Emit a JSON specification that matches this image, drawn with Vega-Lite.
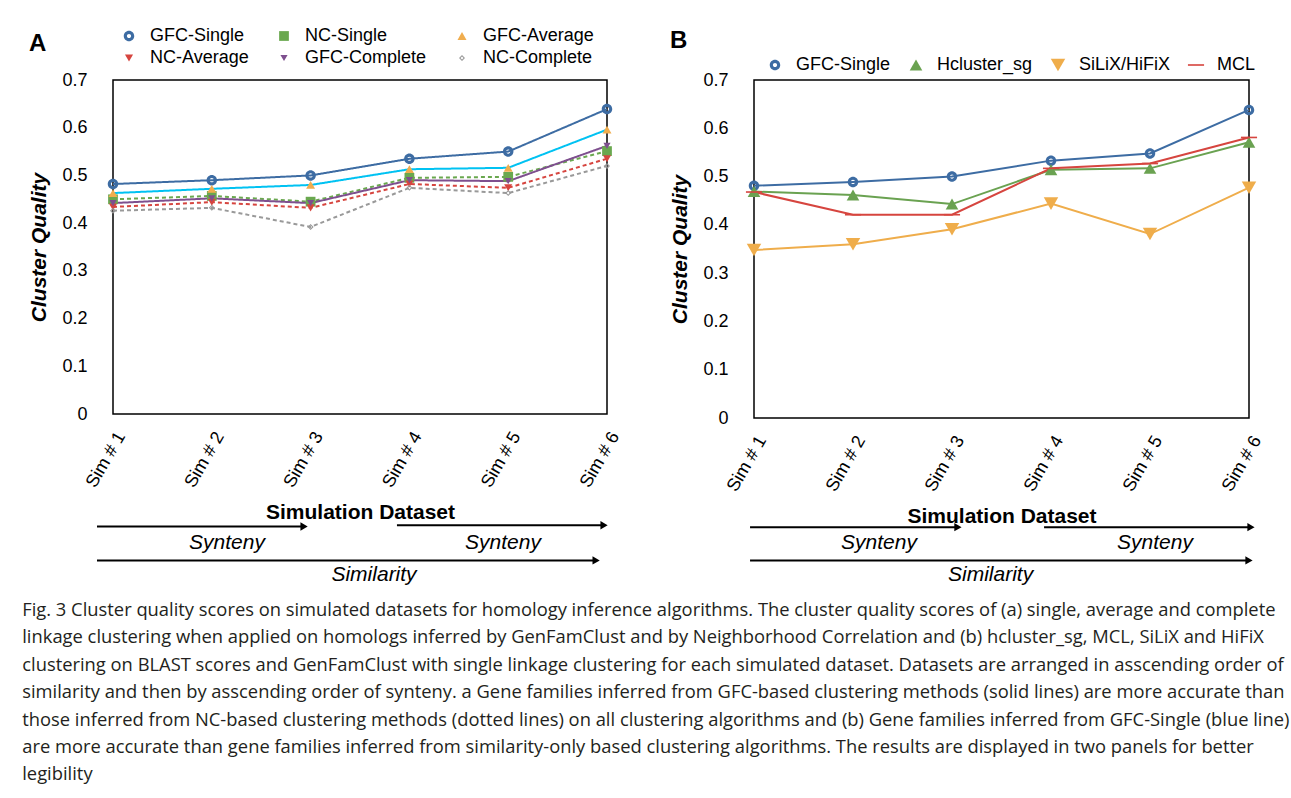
{
  "$schema": "https://vega.github.io/schema/vega-lite/v6.json",
  "background": "white",
  "padding": {"left": 22, "top": 19, "right": 10, "bottom": 10},
  "datasets": {
    "a": [
      {"sim": 1, "series": "GFC-Single", "value": 0.482}, {"sim": 2, "series": "GFC-Single", "value": 0.49}, {"sim": 3, "series": "GFC-Single", "value": 0.5}, {"sim": 4, "series": "GFC-Single", "value": 0.535}, {"sim": 5, "series": "GFC-Single", "value": 0.55}, {"sim": 6, "series": "GFC-Single", "value": 0.639},
      {"sim": 1, "series": "NC-Single", "value": 0.45}, {"sim": 2, "series": "NC-Single", "value": 0.457}, {"sim": 3, "series": "NC-Single", "value": 0.445}, {"sim": 4, "series": "NC-Single", "value": 0.495}, {"sim": 5, "series": "NC-Single", "value": 0.497}, {"sim": 6, "series": "NC-Single", "value": 0.551},
      {"sim": 1, "series": "GFC-Average", "value": 0.463}, {"sim": 2, "series": "GFC-Average", "value": 0.472}, {"sim": 3, "series": "GFC-Average", "value": 0.48}, {"sim": 4, "series": "GFC-Average", "value": 0.513}, {"sim": 5, "series": "GFC-Average", "value": 0.516}, {"sim": 6, "series": "GFC-Average", "value": 0.596},
      {"sim": 1, "series": "NC-Average", "value": 0.434}, {"sim": 2, "series": "NC-Average", "value": 0.444}, {"sim": 3, "series": "NC-Average", "value": 0.432}, {"sim": 4, "series": "NC-Average", "value": 0.482}, {"sim": 5, "series": "NC-Average", "value": 0.474}, {"sim": 6, "series": "NC-Average", "value": 0.535},
      {"sim": 1, "series": "GFC-Complete", "value": 0.442}, {"sim": 2, "series": "GFC-Complete", "value": 0.452}, {"sim": 3, "series": "GFC-Complete", "value": 0.442}, {"sim": 4, "series": "GFC-Complete", "value": 0.49}, {"sim": 5, "series": "GFC-Complete", "value": 0.488}, {"sim": 6, "series": "GFC-Complete", "value": 0.562},
      {"sim": 1, "series": "NC-Complete", "value": 0.426}, {"sim": 2, "series": "NC-Complete", "value": 0.432}, {"sim": 3, "series": "NC-Complete", "value": 0.392}, {"sim": 4, "series": "NC-Complete", "value": 0.474}, {"sim": 5, "series": "NC-Complete", "value": 0.463}, {"sim": 6, "series": "NC-Complete", "value": 0.52}
    ],
    "b": [
      {"sim": 1, "series": "GFC-Single", "value": 0.481}, {"sim": 2, "series": "GFC-Single", "value": 0.489}, {"sim": 3, "series": "GFC-Single", "value": 0.5}, {"sim": 4, "series": "GFC-Single", "value": 0.533}, {"sim": 5, "series": "GFC-Single", "value": 0.548}, {"sim": 6, "series": "GFC-Single", "value": 0.638},
      {"sim": 1, "series": "Hcluster_sg", "value": 0.469}, {"sim": 2, "series": "Hcluster_sg", "value": 0.462}, {"sim": 3, "series": "Hcluster_sg", "value": 0.443}, {"sim": 4, "series": "Hcluster_sg", "value": 0.514}, {"sim": 5, "series": "Hcluster_sg", "value": 0.517}, {"sim": 6, "series": "Hcluster_sg", "value": 0.571},
      {"sim": 1, "series": "SiLiX/HiFiX", "value": 0.348}, {"sim": 2, "series": "SiLiX/HiFiX", "value": 0.36}, {"sim": 3, "series": "SiLiX/HiFiX", "value": 0.391}, {"sim": 4, "series": "SiLiX/HiFiX", "value": 0.444}, {"sim": 5, "series": "SiLiX/HiFiX", "value": 0.381}, {"sim": 6, "series": "SiLiX/HiFiX", "value": 0.477},
      {"sim": 1, "series": "MCL", "value": 0.468}, {"sim": 2, "series": "MCL", "value": 0.421}, {"sim": 3, "series": "MCL", "value": 0.421}, {"sim": 4, "series": "MCL", "value": 0.517}, {"sim": 5, "series": "MCL", "value": 0.527}, {"sim": 6, "series": "MCL", "value": 0.581}
    ],
    "arrA": [
      {"x": 0.838, "x2": 2.934, "y": -0.07},
      {"x": 3.874, "x2": 5.97, "y": -0.09},
      {"x": 0.838, "x2": 5.89, "y": 0.46}
    ],
    "txtA": [
      {"x": 2.154, "y": 0.18, "t": "Synteny"},
      {"x": 4.947, "y": 0.18, "t": "Synteny"},
      {"x": 3.642, "y": 0.68, "t": "Similarity"}
    ],
    "arrB": [
      {"x": 0.96, "x2": 3.06, "y": -0.06},
      {"x": 3.93, "x2": 6.02, "y": -0.06},
      {"x": 0.96, "x2": 6.0, "y": 0.46}
    ],
    "txtB": [
      {"x": 2.263, "y": 0.18, "t": "Synteny"},
      {"x": 5.05, "y": 0.18, "t": "Synteny"},
      {"x": 3.39, "y": 0.68, "t": "Similarity"}
    ]
  },
  "title": {
    "text": [
      "Fig. 3 Cluster quality scores on simulated datasets for homology inference algorithms. The cluster quality scores of (a) single, average and complete",
      "linkage clustering when applied on homologs inferred by GenFamClust and by Neighborhood Correlation and (b) hcluster_sg, MCL, SiLiX and HiFiX",
      "clustering on BLAST scores and GenFamClust with single linkage clustering for each simulated dataset. Datasets are arranged in asscending order of",
      "similarity and then by asscending order of synteny. a Gene families inferred from GFC-based clustering methods (solid lines) are more accurate than",
      "those inferred from NC-based clustering methods (dotted lines) on all clustering algorithms and (b) Gene families inferred from GFC-Single (blue line)",
      "are more accurate than gene families inferred from similarity-only based clustering algorithms. The results are displayed in two panels for better",
      "legibility"
    ],
    "orient": "bottom",
    "anchor": "start",
    "frame": "bounds",
    "font": "Open Sans",
    "fontSize": 18.35,
    "fontWeight": "normal",
    "lineHeight": 27.4,
    "offset": 7,
    "dx": -6,
    "color": "#231f20"
  },
  "columns": 2,
  "align": "each",
  "spacing": {"row": -7, "column": 45},
  "resolve": {
    "scale": {"stroke": "independent", "strokeDash": "independent", "fill": "independent", "shape": "independent", "size": "independent", "x": "independent", "y": "independent"},
    "legend": {"fill": "independent", "shape": "independent", "size": "independent"}
  },
  "concat": [
    {
      "width": 494,
      "height": 334,
      "title": {"text": "A", "anchor": "start", "frame": "bounds", "fontSize": 24, "fontWeight": "bold", "offset": 0, "dy": 36},
      "data": {"name": "a"},
      "layer": [
        {
          "mark": {"type": "line", "strokeWidth": 2},
          "encoding": {
            "x": {"field": "sim", "type": "quantitative", "scale": {"domain": [1, 6], "nice": false, "zero": false}, "axis": {"values": [1, 2, 3, 4, 5, 6], "labelExpr": "'Sim # ' + datum.value", "labelAngle": -60, "title": "Simulation Dataset"}},
            "y": {"field": "value", "type": "quantitative", "scale": {"domain": [0, 0.7], "nice": false}, "axis": {"values": [0, 0.1, 0.2, 0.3, 0.4, 0.5, 0.6, 0.7], "format": "~g", "title": "Cluster Quality"}},
            "stroke": {"field": "series", "type": "nominal", "scale": {"domain": ["NC-Complete", "GFC-Complete", "NC-Average", "GFC-Average", "NC-Single", "GFC-Single"], "range": ["#999999", "#7e4f8e", "#d6453f", "#00c2f2", "#6aa84f", "#3d6ca3"]}, "legend": null},
            "strokeDash": {"field": "series", "type": "nominal", "scale": {"domain": ["NC-Complete", "GFC-Complete", "NC-Average", "GFC-Average", "NC-Single", "GFC-Single"], "range": [[4, 3], [1, 0], [4, 3], [1, 0], [4, 3], [1, 0]]}, "legend": null}
          }
        },
        {
          "mark": {"type": "point", "filled": true, "opacity": 1, "strokeWidth": 0},
          "encoding": {
            "x": {"field": "sim", "type": "quantitative"},
            "y": {"field": "value", "type": "quantitative"},
            "fill": {"field": "series", "type": "nominal", "scale": {"domain": ["GFC-Single", "NC-Single", "GFC-Average", "NC-Average", "GFC-Complete", "NC-Complete"], "range": ["#3d6ca3", "#6aa84f", "#f0ad4e", "#d6453f", "#7e4f8e", "#999999"]}, "legend": {"title": null, "orient": "top", "columns": 3, "gridAlign": "each", "columnPadding": 26, "rowPadding": 4, "labelOffset": 12, "padding": 7, "offset": 6}},
            "shape": {"field": "series", "type": "nominal", "scale": {"domain": ["GFC-Single", "NC-Single", "GFC-Average", "NC-Average", "GFC-Complete", "NC-Complete"], "range": ["M-1,0A1,1,0,1,1,1,0A1,1,0,1,1,-1,0ZM-0.4,0A0.4,0.4,0,1,0,0.4,0A0.4,0.4,0,1,0,-0.4,0Z", "square", "triangle-up", "triangle-down", "triangle-down", "M0,-1L1,0L0,1L-1,0ZM0,-0.5L-0.5,0L0,0.5L0.5,0Z"]}, "legend": {"title": null, "orient": "top", "columns": 3, "gridAlign": "each", "columnPadding": 26, "rowPadding": 4, "labelOffset": 12, "padding": 7, "offset": 6}},
            "size": {"field": "series", "type": "nominal", "scale": {"domain": ["GFC-Single", "NC-Single", "GFC-Average", "NC-Average", "GFC-Complete", "NC-Complete"], "range": [110, 36, 280, 45, 280, 50]}, "legend": {"title": null, "orient": "top", "columns": 3, "gridAlign": "each", "columnPadding": 26, "rowPadding": 4, "labelOffset": 12, "padding": 7, "offset": 6}}
          }
        }
      ]
    },
    {
      "width": 495,
      "height": 338,
      "title": {"text": "B", "anchor": "start", "frame": "bounds", "fontSize": 24, "fontWeight": "bold", "offset": 0, "dy": 9},
      "data": {"name": "b"},
      "layer": [
        {
          "mark": {"type": "line", "strokeWidth": 2},
          "encoding": {
            "x": {"field": "sim", "type": "quantitative", "scale": {"domain": [1, 6], "nice": false, "zero": false}, "axis": {"values": [1, 2, 3, 4, 5, 6], "labelExpr": "'Sim # ' + datum.value", "labelAngle": -60, "title": "Simulation Dataset"}},
            "y": {"field": "value", "type": "quantitative", "scale": {"domain": [0, 0.7], "nice": false}, "axis": {"values": [0, 0.1, 0.2, 0.3, 0.4, 0.5, 0.6, 0.7], "format": "~g", "title": "Cluster Quality"}},
            "stroke": {"field": "series", "type": "nominal", "scale": {"domain": ["MCL", "SiLiX/HiFiX", "Hcluster_sg", "GFC-Single"], "range": ["#d6453f", "#efad4b", "#6aa251", "#3d6ca3"]}, "legend": null}
          }
        },
        {
          "mark": {"type": "point", "filled": true, "opacity": 1, "strokeWidth": 0},
          "encoding": {
            "x": {"field": "sim", "type": "quantitative"},
            "y": {"field": "value", "type": "quantitative"},
            "fill": {"field": "series", "type": "nominal", "scale": {"domain": ["GFC-Single", "Hcluster_sg", "SiLiX/HiFiX", "MCL"], "range": ["#3d6ca3", "#6aa251", "#efad4b", "#d6453f"]}, "legend": {"title": null, "orient": "top", "columnPadding": 16, "labelOffset": 12, "padding": 12, "offset": -6}},
            "shape": {"field": "series", "type": "nominal", "scale": {"domain": ["GFC-Single", "Hcluster_sg", "SiLiX/HiFiX", "MCL"], "range": ["M-1,0A1,1,0,1,1,1,0A1,1,0,1,1,-1,0ZM-0.4,0A0.4,0.4,0,1,0,0.4,0A0.4,0.4,0,1,0,-0.4,0Z", "triangle-up", "triangle-down", "M-1,-0.1L1,-0.1L1,0.1L-1,0.1Z"]}, "legend": {"title": null, "orient": "top", "columnPadding": 16, "labelOffset": 12, "padding": 12, "offset": -6}},
            "size": {"field": "series", "type": "nominal", "scale": {"domain": ["GFC-Single", "Hcluster_sg", "SiLiX/HiFiX", "MCL"], "range": [110, 260, 260, 170]}, "legend": {"title": null, "orient": "top", "columnPadding": 16, "labelOffset": 12, "padding": 12, "offset": -6}}
          }
        }
      ]
    },
    {
      "width": 494,
      "height": 64,
      "view": {"stroke": null},
      "layer": [
        {
          "data": {"name": "arrA"},
          "mark": {"type": "rule", "strokeWidth": 2, "color": "black"},
          "encoding": {
            "x": {"field": "x", "type": "quantitative", "scale": {"domain": [1, 6], "nice": false, "zero": false}, "axis": null},
            "x2": {"field": "x2"},
            "y": {"field": "y", "type": "quantitative", "scale": {"domain": [0, 1], "reverse": true}, "axis": null}
          }
        },
        {
          "data": {"name": "arrA"},
          "mark": {"type": "point", "shape": "triangle-right", "filled": true, "color": "black", "size": 70, "opacity": 1},
          "encoding": {
            "x": {"field": "x2", "type": "quantitative"},
            "y": {"field": "y", "type": "quantitative"}
          }
        },
        {
          "data": {"name": "txtA"},
          "mark": {"type": "text", "font": "Liberation Sans", "fontSize": 21, "fontStyle": "italic", "color": "black", "baseline": "middle"},
          "encoding": {
            "x": {"field": "x", "type": "quantitative"},
            "y": {"field": "y", "type": "quantitative"},
            "text": {"field": "t"}
          }
        }
      ]
    },
    {
      "width": 495,
      "height": 64,
      "view": {"stroke": null},
      "layer": [
        {
          "data": {"name": "arrB"},
          "mark": {"type": "rule", "strokeWidth": 2, "color": "black"},
          "encoding": {
            "x": {"field": "x", "type": "quantitative", "scale": {"domain": [1, 6], "nice": false, "zero": false}, "axis": null},
            "x2": {"field": "x2"},
            "y": {"field": "y", "type": "quantitative", "scale": {"domain": [0, 1], "reverse": true}, "axis": null}
          }
        },
        {
          "data": {"name": "arrB"},
          "mark": {"type": "point", "shape": "triangle-right", "filled": true, "color": "black", "size": 70, "opacity": 1},
          "encoding": {
            "x": {"field": "x2", "type": "quantitative"},
            "y": {"field": "y", "type": "quantitative"}
          }
        },
        {
          "data": {"name": "txtB"},
          "mark": {"type": "text", "font": "Liberation Sans", "fontSize": 21, "fontStyle": "italic", "color": "black", "baseline": "middle"},
          "encoding": {
            "x": {"field": "x", "type": "quantitative"},
            "y": {"field": "y", "type": "quantitative"},
            "text": {"field": "t"}
          }
        }
      ]
    }
  ],
  "config": {
    "font": "Liberation Sans",
    "view": {"stroke": "black", "strokeWidth": 1.5},
    "title": {"font": "Liberation Sans", "color": "black"},
    "axis": {"labelFont": "Liberation Sans", "labelFontSize": 18, "labelColor": "black", "titleFont": "Liberation Sans", "titleFontSize": 21, "titleFontWeight": "bold", "titleColor": "black", "ticks": false, "tickSize": 0, "domain": false, "grid": false},
    "axisY": {"labelPadding": 26, "titleFontStyle": "italic", "titlePadding": 12},
    "axisX": {"labelPadding": 19, "labelOffset": 8, "titlePadding": 11},
    "legend": {"labelFont": "Liberation Sans", "labelFontSize": 18, "labelColor": "black", "symbolStrokeWidth": 0}
  }
}
